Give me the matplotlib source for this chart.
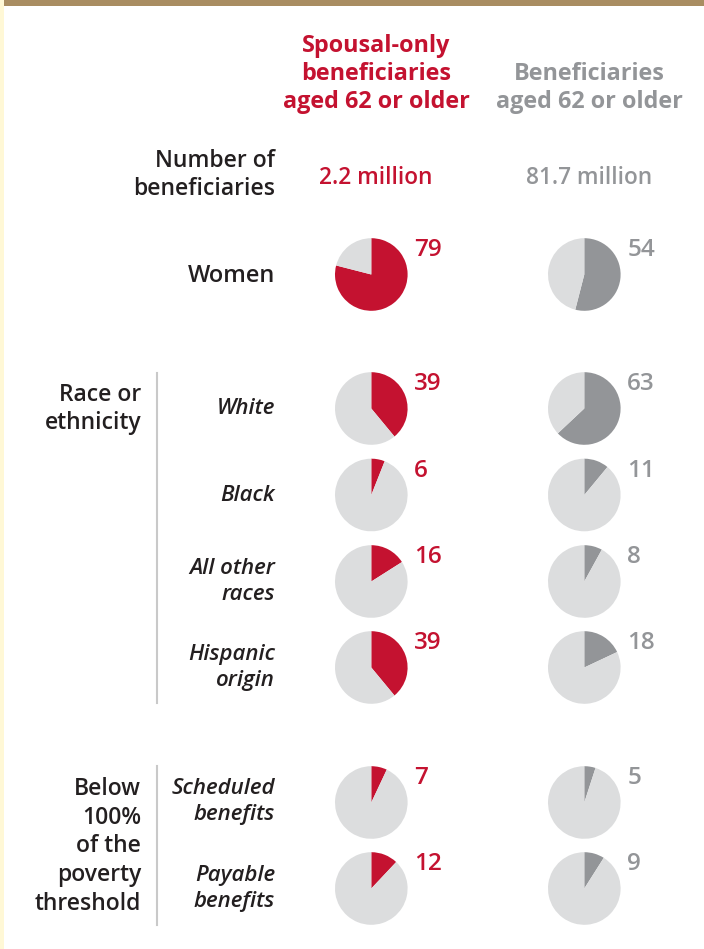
import matplotlib
matplotlib.use('Agg')
import matplotlib.pyplot as plt
from matplotlib.patches import Wedge, Rectangle

plt.rcParams['font.family'] = ['Open Sans', 'DejaVu Sans']

RED = '#C41230'
DARK = '#939598'
LIGHT = '#DCDDDE'
INK = '#231F20'

# data
row_labels = [['Women'], ['White'], ['Black'], ['All other', 'races'], ['Hispanic', 'origin'],
              ['Scheduled', 'benefits'], ['Payable', 'benefits']]
spousal_pct = [79, 39, 6, 16, 39, 7, 12]
all_pct = [54, 63, 11, 8, 18, 5, 9]
spousal_head = ['Spousal-only', 'beneficiaries', 'aged 62 or older']
all_head = ['Beneficiaries', 'aged 62 or older']
spousal_count = '2.2 million'
all_count = '81.7 million'
groups = [['Race or', 'ethnicity'], ['Below', '100%', 'of the', 'poverty', 'threshold']]

# layout (pixels)
row_y = [274.5, 408.5, 495, 581.5, 667.5, 802.5, 888.5]
row_base = [282, 414, 501, 574, 660, 794, 881]
italic_rows = [False, True, True, True, True, True, True]
col_x = [371.3, 584.3]
R = 36.3

fig = plt.figure(figsize=(7.04, 9.49), dpi=100)
ax = fig.add_axes([0, 0, 1, 1])
ax.set_xlim(0, 704)
ax.set_ylim(949, 0)
ax.axis('off')

# frame decorations
ax.add_patch(Rectangle((0, 0), 4, 949, color='#FFF8D6', lw=0))
ax.add_patch(Rectangle((4, 0), 700, 6, color='#A98D62', lw=0))

# column headers
for j, s in enumerate(spousal_head):
    ax.text(376, 52 + 28 * j, s, color=RED, fontsize=16.8, fontweight='bold',
            ha='center', va='baseline')
for j, s in enumerate(all_head):
    ax.text(589, 80 + 28 * j, s, color=DARK, fontsize=16.8, fontweight='bold',
            ha='center', va='baseline')

# counts
for j, s in enumerate(['Number of', 'beneficiaries']):
    ax.text(275, 167 + 28 * j, s, color=INK, fontsize=16.5, fontweight='semibold',
            ha='right', va='baseline')
ax.text(376, 184, spousal_count, color=RED, fontsize=16.3, fontweight='semibold',
        ha='center', va='baseline')
ax.text(589, 184, all_count, color=DARK, fontsize=16.3, fontweight='semibold',
        ha='center', va='baseline')

# group labels and separators
for j, s in enumerate(groups[0]):
    ax.text(141, 401 + 28 * j, s, color=INK, fontsize=16.5, fontweight='semibold',
            ha='right', va='baseline')
ax.plot([157, 157], [373, 703], color='#C9C9C9', lw=1.5)
for j, s in enumerate(groups[1]):
    ax.text(141, 795 + 28.7 * j, s, color=INK, fontsize=16.5, fontweight='semibold',
            ha='right', va='baseline')
ax.plot([157, 157], [766, 925], color='#C9C9C9', lw=1.5)

for i in range(len(row_labels)):
    y = row_y[i]
    for j, s in enumerate(row_labels[i]):
        ax.text(275, row_base[i] + 26 * j, s, color=INK,
                fontsize=16 if italic_rows[i] else 17, fontweight='semibold',
                style='italic' if italic_rows[i] else 'normal',
                ha='right', va='baseline')
    for cx, pct, col in [(col_x[0], spousal_pct[i], RED), (col_x[1], all_pct[i], DARK)]:
        a = -90 + 360 * pct / 100.0
        ax.add_patch(Wedge((cx, y), R, -90, a, color=col, lw=0))
        ax.add_patch(Wedge((cx, y), R, a, 270, color=LIGHT, lw=0))
        ax.text(cx + 43, y - 18.5, str(pct), color=col, fontsize=17.5,
                fontweight='semibold', ha='left', va='baseline')

fig.savefig('out.png', dpi=100, facecolor='white')
